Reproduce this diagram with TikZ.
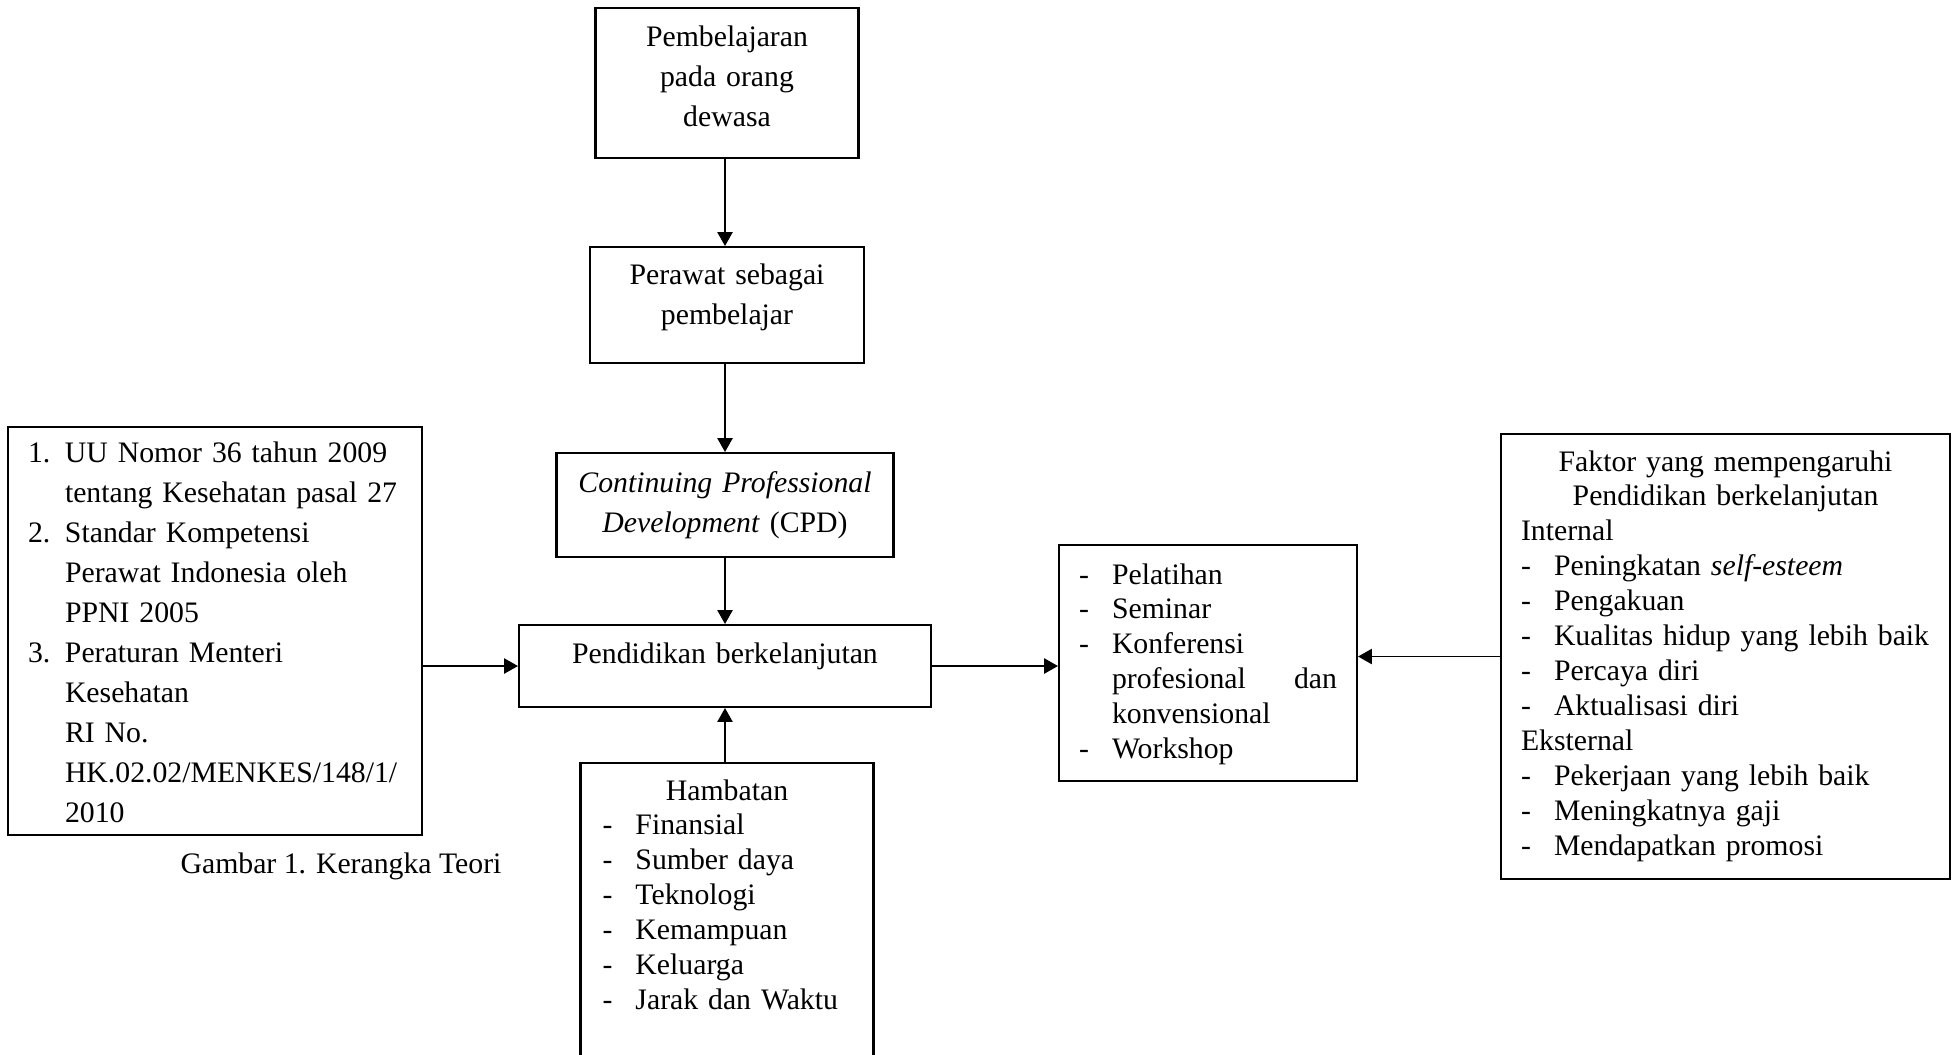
\documentclass[tikz,border=0pt]{standalone}
\usepackage{fontspec}
\setmainfont{Liberation Serif}
\usetikzlibrary{arrows.meta}
\newdimen\pxu
\pxu=0.395pt
\newcommand{\dashitem}[1]{\mbox{\makebox[33\pxu][l]{-}#1}}
\newcommand{\numitem}[2]{\mbox{\makebox[37\pxu][l]{#1}#2}}
\newcommand{\contline}[1]{\mbox{\hspace*{37\pxu}#1}}
\tikzset{
  every node/.style={font=\fontsize{11.75}{13.8}\selectfont},
  box/.style={draw, line width=0.8pt, inner sep=0pt},
  titlebox/.style={box, align=center, font=\fontsize{11.75}{15.8}\selectfont},
  listbox/.style={box, align=left, inner ysep=0pt},
  arr/.style={-{Triangle[length=5.5pt,width=6pt]}, line width=0.75pt},
}
\begin{document}
\begin{tikzpicture}[x=0.395pt,y=-0.395pt]
        \useasboundingbox (0,0) rectangle (1958,1054);
        \clip (0,0) rectangle (1958,1054);

        \node[titlebox, anchor=north, text width=263\pxu, text height=38\pxu, text depth=112\pxu] (adult) at (727,7) {Pembelajaran\\pada orang\\dewasa};
        \node[titlebox, anchor=north, text width=274\pxu, text height=37\pxu, text depth=79\pxu] (learner) at (727,246) {Perawat sebagai\\pembelajar};
        \node[titlebox, anchor=north, text width=337\pxu, text height=39\pxu, text depth=65\pxu] (cpd) at (725,452) {\textit{Continuing Professional}\\\textit{Development} (CPD)};
        \node[box, anchor=north, align=center, text width=412\pxu, text height=38\pxu, text depth=44\pxu] (pend) at (725,624) {Pendidikan berkelanjutan};

        \node[listbox, anchor=north, inner xsep=22\pxu, text width=249\pxu, text height=37\pxu, text depth=281\pxu] (hamb) at (727,762) {%
            \makebox[\linewidth]{Hambatan}\\
            \dashitem{Finansial}\\
            \dashitem{Sumber daya}\\
            \dashitem{Teknologi}\\
            \dashitem{Kemampuan}\\
            \dashitem{Keluarga}\\
            \dashitem{Jarak dan Waktu}};

        \node[listbox, anchor=north west, inner xsep=20\pxu, text width=374\pxu, text height=35\pxu, text depth=373\pxu,
              font=\fontsize{11.75}{15.8}\selectfont] (rules) at (7,426) {%
            \numitem{1.}{UU Nomor 36 tahun 2009}\\
            \contline{tentang Kesehatan pasal 27}\\
            \numitem{2.}{Standar Kompetensi}\\
            \contline{Perawat Indonesia oleh}\\
            \contline{PPNI 2005}\\
            \numitem{3.}{Peraturan Menteri}\\
            \contline{Kesehatan}\\
            \contline{RI No.}\\
            \contline{HK.02.02/MENKES/148/1/}\\
            \contline{2010}};

        \node[listbox, anchor=north west, inner xsep=20\pxu, text width=258\pxu, text height=39\pxu, text depth=197\pxu] (forms) at (1058,544) {%
            \dashitem{Pelatihan}\\
            \dashitem{Seminar}\\
            \dashitem{Konferensi}\\
            \hspace*{33\pxu}\hbox to 225\pxu{profesional\hfill dan}\\
            \hspace*{33\pxu}konvensional\\
            \dashitem{Workshop}};

        \node[listbox, anchor=north west, inner xsep=20\pxu, text width=409\pxu, text height=37\pxu, text depth=408\pxu] (factors) at (1500,433) {%
            \makebox[\linewidth]{Faktor yang mempengaruhi}\\
            \makebox[\linewidth]{Pendidikan berkelanjutan}\\
            Internal\\
            \dashitem{Peningkatan \textit{self-esteem}}\\
            \dashitem{Pengakuan}\\
            \dashitem{Kualitas hidup yang lebih baik}\\
            \dashitem{Percaya diri}\\
            \dashitem{Aktualisasi diri}\\
            Eksternal\\
            \dashitem{Pekerjaan yang lebih baik}\\
            \dashitem{Meningkatnya gaji}\\
            \dashitem{Mendapatkan promosi}};

        \node (caption) at (341,866) {Gambar 1. Kerangka Teori};

        \draw[arr] (adult.south -| cpd.north) -- (learner.north -| cpd.north);
        \draw[arr] (learner.south -| cpd.north) -- (cpd.north);
        \draw[arr] (cpd) -- (pend);
        \draw[arr] (hamb.north -| pend.south) -- (pend.south);
        \draw[arr] (rules.east |- pend.west) -- (pend.west);
        \draw[arr] (pend.east) -- (pend.east -| forms.west);
        \draw[arr] (factors.west) -- (factors.west -| forms.east);

    \end{tikzpicture}
\end{document}
